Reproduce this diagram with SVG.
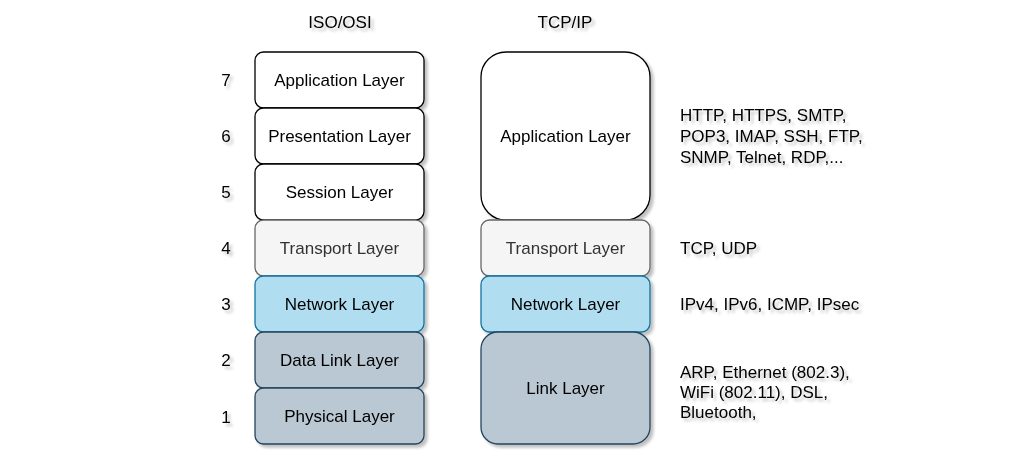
<svg xmlns="http://www.w3.org/2000/svg" width="1036" height="462" viewBox="0 0 1036 462">
<defs>
<filter id="sh" x="-20%" y="-20%" width="140%" height="140%">
<feGaussianBlur in="SourceAlpha" stdDeviation="1.7"/>
<feOffset dx="3" dy="3" result="b"/>
<feComponentTransfer><feFuncA type="linear" slope="0.25"/></feComponentTransfer>
<feMerge><feMergeNode/><feMergeNode in="SourceGraphic"/></feMerge>
</filter>
</defs>
<style>
text{font-family:"Liberation Sans",Arial,sans-serif;font-size:17px;fill:#000;}
.c{text-anchor:middle;dominant-baseline:central;}
.w{fill:#fff;stroke:#000;stroke-width:1.3;}
.t{fill:#f5f5f5;stroke:#666;stroke-width:1.3;}
.n{fill:#b1ddf0;stroke:#10739e;stroke-width:1.3;}
.l{fill:#bac8d3;stroke:#23445d;stroke-width:1.3;}
.g{fill:#333;}
</style>
<rect width="1036" height="462" fill="#fff"/>
<g filter="url(#sh)">
<text id="title-osi" class="c" x="340" y="22">ISO/OSI</text>
<text id="title-tcp" class="c" x="565" y="22">TCP/IP</text>

<g id="num7"><text class="c" x="226" y="80">7</text></g>
<g id="num6"><text class="c" x="226" y="136">6</text></g>
<g id="num5"><text class="c" x="226" y="192">5</text></g>
<g id="num4"><text class="c" x="226" y="248">4</text></g>
<g id="num3"><text class="c" x="226" y="304">3</text></g>
<g id="num2"><text class="c" x="226" y="360">2</text></g>
<g id="num1"><text class="c" x="226" y="417">1</text></g>

<g id="osi-app"><rect class="w" x="255" y="52" width="169" height="56" rx="8.4"/><text class="c" x="339.5" y="80">Application Layer</text></g>
<g id="osi-pres"><rect class="w" x="255" y="108" width="169" height="56" rx="8.4"/><text class="c" x="339.5" y="136">Presentation Layer</text></g>
<g id="osi-sess"><rect class="w" x="255" y="164" width="169" height="56" rx="8.4"/><text class="c" x="339.5" y="192">Session Layer</text></g>
<g id="osi-trans"><rect class="t" x="255" y="220" width="169" height="56" rx="8.4"/><text class="c g" x="339.5" y="248">Transport Layer</text></g>
<g id="osi-net"><rect class="n" x="255" y="276" width="169" height="56" rx="8.4"/><text class="c" x="339.5" y="304">Network Layer</text></g>
<g id="osi-dl"><rect class="l" x="255" y="332" width="169" height="56" rx="8.4"/><text class="c" x="339.5" y="360">Data Link Layer</text></g>
<g id="osi-phy"><rect class="l" x="255" y="388" width="169" height="56" rx="8.4"/><text class="c" x="339.5" y="416">Physical Layer</text></g>

<g id="tcp-app"><rect class="w" x="481" y="52" width="169" height="168" rx="25"/><text class="c" x="565.5" y="136">Application Layer</text></g>
<g id="tcp-trans"><rect class="t" x="481" y="220" width="169" height="56" rx="8.4"/><text class="c g" x="565.5" y="248">Transport Layer</text></g>
<g id="tcp-net"><rect class="n" x="481" y="276" width="169" height="56" rx="8.4"/><text class="c" x="565.5" y="304">Network Layer</text></g>
<g id="tcp-link"><rect class="l" x="481" y="332" width="169" height="112" rx="16.8"/><text class="c" x="565.5" y="388">Link Layer</text></g>

<g id="proto-app"><text x="680" y="121">HTTP, HTTPS, SMTP,</text><text x="680" y="142">POP3, IMAP, SSH, FTP,</text><text x="680" y="163">SNMP, Telnet, RDP,...</text></g>
<g id="proto-trans"><text x="680" y="254">TCP, UDP</text></g>
<g id="proto-net"><text x="680" y="310">IPv4, IPv6, ICMP, IPsec</text></g>
<g id="proto-link"><text x="680" y="378">ARP, Ethernet (802.3),</text><text x="680" y="398">WiFi (802.11), DSL,</text><text x="680" y="418">Bluetooth,</text></g>
</g>
<g id="connectors"/>
</svg>
